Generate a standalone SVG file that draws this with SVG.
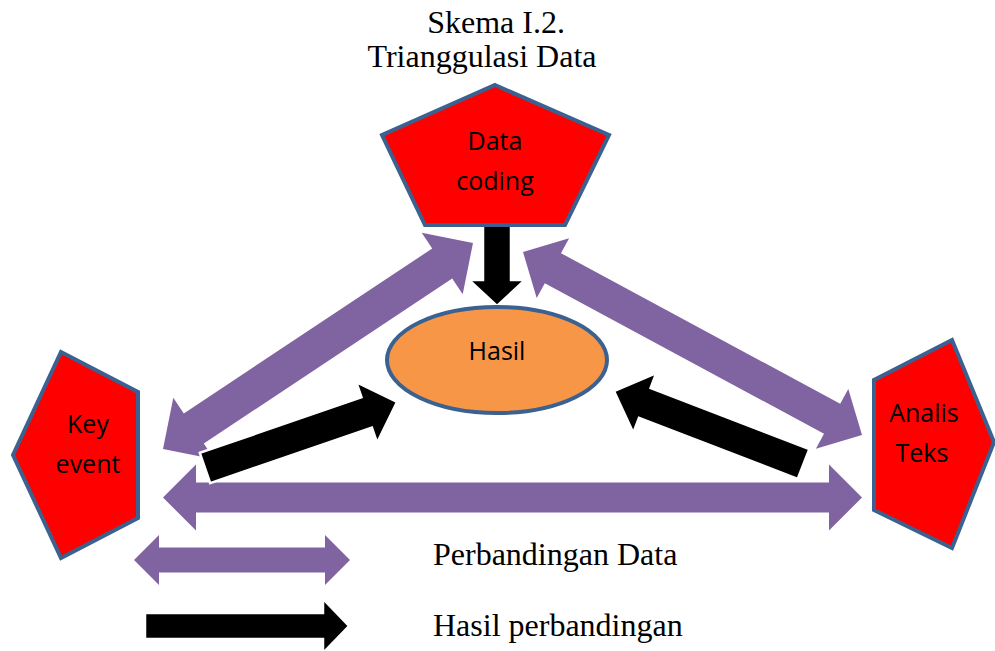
<svg xmlns="http://www.w3.org/2000/svg" width="995" height="651" viewBox="0 0 995 651">
<style>
.node{fill:#FF0000;stroke:#3B6190;stroke-width:4;stroke-linejoin:miter}
.hasil{fill:#F79646;stroke:#3B6190;stroke-width:4}
.lbl{font-family:"Open Sans","Liberation Sans",sans-serif;font-size:25px;fill:#000;text-anchor:middle}
.serif{font-family:"Liberation Serif","Times New Roman",serif;font-size:32px;fill:#000}
.purple{fill:#8064A2}
.black{fill:#000;stroke:#fff;stroke-width:2.5;stroke-linejoin:miter}
</style>
<rect width="995" height="651" fill="#fff"/>
<g id="title">
<text class="serif" x="496" y="33" text-anchor="middle">Skema I.2.</text>
<text class="serif" x="482" y="67" text-anchor="middle">Trianggulasi Data</text>
</g>
<g id="connectors">
<polygon class="purple" points="163,449 173.3,397.7 183.8,413.5 432.2,248.5 421.7,232.7 473,243 462.7,294.3 452.2,278.5 203.8,443.5 214.3,459.3"/>
<polygon class="purple" points="523,252 569.1,238.3 561,253.2 840.2,403.8 848.3,388.9 862,435 815.9,448.7 824,433.8 544.8,283.2 536.7,298.1"/>
<polygon class="purple" points="163,497.5 196,464.5 196,482.5 829,482.5 829,464.5 862,497.5 829,530.5 829,512.5 196,512.5 196,530.5"/>
<polygon class="black" points="210.2,483.1 371.9,427.5 377.1,442.7 397,402 356.3,382.1 361.5,397.3 199.8,452.9"/>
<polygon class="black" points="809.3,449.1 650.6,388 656.3,373 614,391 633.3,432.8 639,417.8 797.7,478.9"/>
<polygon class="black" points="483,222 511,222 511,280 525,280 497,306 469,280 483,280"/>
</g>
<g id="node-data-coding">
<polygon class="node" points="495,85 609,135 565,225 425,225 382,135"/>
<text class="lbl" x="495" y="150">Data</text>
<text class="lbl" x="495" y="190">coding</text>
</g>
<g id="node-hasil">
<ellipse class="hasil" cx="497" cy="360" rx="110" ry="53"/>
<text class="lbl" x="497" y="360">Hasil</text>
</g>
<g id="node-key-event">
<polygon class="node" points="61,352 138,392 138,518 61,558 13,455"/>
<text class="lbl" x="88" y="433">Key</text>
<text class="lbl" x="88" y="473">event</text>
</g>
<g id="node-analis-teks">
<polygon class="node" points="952,340 994,442 952,548 874,510 874,380"/>
<text class="lbl" x="924" y="422">Analis</text>
<text class="lbl" x="922" y="462">Teks</text>
</g>
<g id="legend">
<polygon class="purple" points="134,560 159,535 159,547.5 325,547.5 325,535 350,560 325,585 325,572.5 159,572.5 159,585"/>
<polygon class="black" points="145,613 323,613 323,599 349,626 323,653 323,639 145,639"/>
<text class="serif" x="433" y="565">Perbandingan Data</text>
<text class="serif" x="433" y="636">Hasil perbandingan</text>
</g>
</svg>
